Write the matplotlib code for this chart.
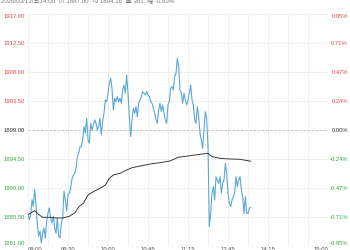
import matplotlib
matplotlib.use("Agg")
import matplotlib.pyplot as plt
import matplotlib.transforms as mtransforms

# ---- data ----
title_text = "2026/03/13/五14:00  价 1887.00  均 1894.16  量 361  幅 -0.63%"

price = [
    1885.86, 1885.08, 1885.86, 1888.18, 1887.16, 1889.74, 1887.41, 1884.31, 1882.51, 1883.28,
    1881.47, 1883.02, 1883.79, 1882.24, 1884.83, 1886.12, 1886.90, 1885.35, 1884.57, 1885.61,
    1883.79, 1883.02, 1885.35, 1882.51, 1882.24, 1884.57, 1885.35, 1889.49, 1888.18, 1886.38,
    1888.96, 1889.22, 1890.00, 1891.40, 1892.00, 1892.20, 1893.00, 1894.90, 1895.38, 1896.42,
    1896.42, 1897.45, 1899.52, 1898.49, 1900.82, 1897.45, 1896.94, 1900.04, 1899.00, 1899.78,
    1900.56, 1900.04, 1899.00, 1899.52, 1900.82, 1898.23, 1900.30, 1901.59, 1903.66, 1903.40,
    1904.69, 1906.25, 1907.02, 1905.47, 1902.11, 1903.92, 1903.40, 1904.18, 1903.40, 1903.92,
    1903.14, 1905.21, 1905.99, 1904.69, 1907.54, 1904.69, 1901.07, 1897.97, 1900.56, 1902.37,
    1901.59, 1902.63, 1901.07, 1903.14, 1903.66, 1904.18, 1904.95, 1904.69, 1904.44, 1904.95,
    1904.44, 1904.18, 1903.40, 1903.14, 1902.37, 1901.59, 1900.56, 1900.04, 1902.11, 1903.14,
    1901.85, 1902.88, 1901.59, 1900.56, 1900.04, 1902.88, 1903.40, 1905.50, 1905.73, 1905.21,
    1907.28, 1907.80, 1910.13, 1908.83, 1905.21, 1904.69, 1903.14, 1904.69, 1903.66, 1902.88,
    1903.66, 1904.69, 1905.99, 1903.66, 1902.88, 1900.56, 1900.04, 1902.63, 1901.07, 1898.49,
    1897.45, 1896.16, 1899.00, 1901.85, 1900.82, 1896.50, 1884.00, 1886.07, 1889.18, 1890.21,
    1888.14, 1891.76, 1891.25, 1890.73, 1891.76, 1889.18, 1890.73, 1891.25, 1893.83, 1892.28,
    1889.18, 1887.63, 1887.11, 1888.14, 1888.66, 1889.18, 1891.76, 1890.21, 1891.25, 1891.76,
    1889.69, 1888.66, 1886.07, 1888.66, 1886.07, 1886.07, 1886.85, 1887.00,
]

avg_minutes = [0, 5, 7.5, 11, 16.5, 21, 26, 31, 35, 38.5, 41.5, 45, 49, 54, 58, 61, 64, 69, 74,
               78, 84, 91.5, 99, 106.5, 112.5, 121.5, 129, 135, 138, 144, 151.5, 159, 167]
avg_values = [1885.86, 1886.48, 1885.97, 1885.45, 1885.45, 1885.35, 1885.35, 1885.61, 1886.12,
              1887.16, 1887.63, 1888.91, 1889.43, 1889.95, 1890.47, 1891.50, 1892.02, 1892.28,
              1892.79, 1893.15, 1893.41, 1893.72, 1893.93, 1894.19, 1894.76, 1895.01, 1895.23,
              1895.38, 1894.86, 1894.61, 1894.50, 1894.45, 1894.16]

prev_close = 1899.00
y_ticks = [1881.00, 1885.50, 1890.00, 1894.50, 1899.00, 1903.50, 1908.00, 1912.50, 1917.00]
pct_labels = ["-0.95%", "-0.71%", "-0.47%", "-0.24%", "0.00%", "0.24%", "0.47%", "0.71%", "0.95%"]
x_tick_minutes = [0, 30, 60, 90, 120, 150, 180, 225]
x_tick_labels = ["09:00", "09:30", "10:00", "10:45", "11:15", "13:45", "14:15", "15:00"]
total_minutes = 225

# ---- style ----
RED = "#e0474c"
GREEN = "#3da548"
BLACK = "#333333"
BLUE = "#5aa8d8"
FONT = ["Liberation Sans", "Noto Sans CJK SC", "DejaVu Sans"]
plt.rcParams["font.family"] = FONT

fig = plt.figure(figsize=(3.5, 2.5), dpi=100)
fig.patch.set_facecolor("white")
ax = fig.add_axes([28 / 350, 4 / 250, 300 / 350, 232 / 250])
ax.set_xlim(0, total_minutes)
ax.set_ylim(y_ticks[0], y_ticks[-1])
for s in ax.spines.values():
    s.set_visible(False)

# grid
for m in range(0, total_minutes + 1, 15):
    ax.axvline(m, color="#eeeeee", lw=0.6, zorder=0)
for v in y_ticks:
    if v == prev_close:
        ax.axhline(v, color="#bbbbbb", lw=0.6, ls=(0, (3, 2)), zorder=1)
    else:
        ax.axhline(v, color="#eeeeee", lw=0.6, zorder=0)

ax.plot(range(len(price)), price, color=BLUE, lw=0.8, zorder=3)
ax.plot(avg_minutes, avg_values, color="#3a3a3a", lw=0.7, zorder=4)

def col(v):
    if v > prev_close:
        return RED
    if v < prev_close:
        return GREEN
    return BLACK

ax.set_yticks(y_ticks)
ax.set_yticklabels([f"{v:.2f}" for v in y_ticks], fontsize=4.2)
ax.tick_params(axis="y", length=0, pad=2)
for lab, v in zip(ax.get_yticklabels(), y_ticks):
    lab.set_color(col(v))
ax.get_yticklabels()[0].set_verticalalignment("bottom")
ax.get_yticklabels()[-1].set_verticalalignment("top")

ax2 = ax.twinx()
ax2.set_ylim(ax.get_ylim())
for s in ax2.spines.values():
    s.set_visible(False)
ax2.set_yticks(y_ticks)
ax2.set_yticklabels(pct_labels, fontsize=4.2)
ax2.tick_params(axis="y", length=0, pad=14.4)
for lab, v in zip(ax2.get_yticklabels(), y_ticks):
    lab.set_color(col(v))
    lab.set_horizontalalignment("right")
ax2.get_yticklabels()[0].set_verticalalignment("bottom")
ax2.get_yticklabels()[-1].set_verticalalignment("top")

ax.set_xticks(x_tick_minutes)
ax.set_xticklabels(x_tick_labels, fontsize=4.2, color="#555555")
ax.tick_params(axis="x", length=0, pad=1)
ax.get_xticklabels()[0].set_horizontalalignment("left")
ax.get_xticklabels()[-1].set_horizontalalignment("right")

fig.text(0.003, 1 - 1.0 / 250, title_text, fontsize=4.4, color="#777777",
         ha="left", va="center", family=FONT)

fig.savefig("out.png", dpi=100, facecolor="white")
